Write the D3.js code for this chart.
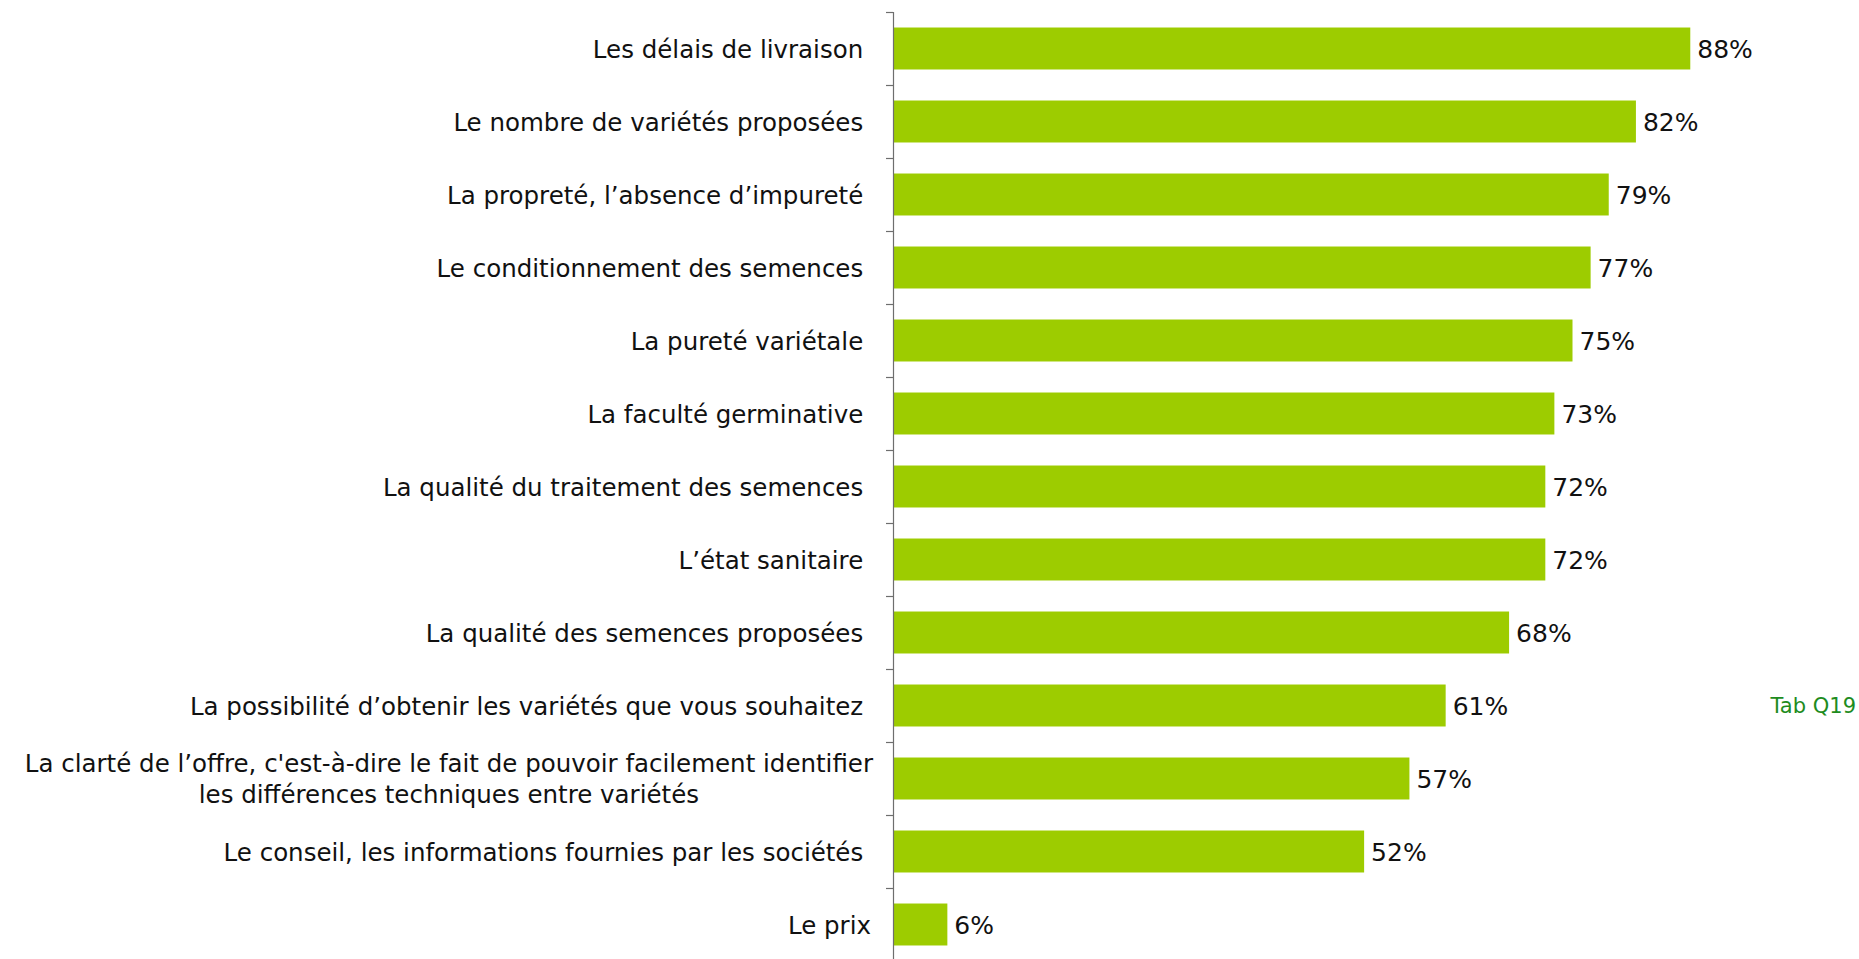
<!DOCTYPE html>
<meta charset="utf-8">
<script src="https://d3js.org/d3.v7.min.js"></script>
<style>
    body {
        margin: 0;
        background-color: white;
    }
    text {
        font-family: Verdana, "DejaVu Sans", sans-serif;
        white-space: pre;
    }
</style>

<div id="my_dataviz"></div>

<script>
    // categories (top to bottom) and values in %
    var categories = [
        "Les délais de livraison ",
        "Le nombre de variétés proposées ",
        "La propreté, l’absence d’impureté ",
        "Le conditionnement des semences ",
        "La pureté variétale ",
        "La faculté germinative ",
        "La qualité du traitement des semences ",
        "L’état sanitaire ",
        "La qualité des semences proposées ",
        "La possibilité d’obtenir les variétés que vous souhaitez ",
        "La clarté de l’offre, c'est-à-dire le fait de pouvoir facilement identifier\nles différences techniques entre variétés",
        "Le conseil, les informations fournies par les sociétés ",
        "Le prix"
    ];
    var values = [88, 82, 79, 77, 75, 73, 72, 72, 68, 61, 57, 52, 6];
    var valueLabels = values.map(function(v) { return v + "%"; });
    var note = "Tab Q19";

    // dimensions
    var W = 1859, H = 959;
    var margin = { top: 12, left: 893 };
    var plotWidth = 906;      // 0..100 %
    var plotHeight = 949;

    var svg = d3.select("#my_dataviz")
        .append("svg")
        .attr("width", W)
        .attr("height", H);

    var x = d3.scaleLinear()
        .domain([0, 100])
        .range([margin.left, margin.left + plotWidth]);

    var y = d3.scaleBand()
        .domain(d3.range(categories.length))
        .range([margin.top, margin.top + plotHeight])
        .paddingInner(0.425)
        .paddingOuter(0.2125);

    // bars
    svg.append("g")
        .selectAll("rect")
        .data(values)
        .enter()
        .append("rect")
        .attr("x", x(0))
        .attr("y", function(d, i) { return y(i); })
        .attr("width", function(d) { return x(d) - x(0); })
        .attr("height", y.bandwidth())
        .style("fill", "#9dcc00");

    // axis line + ticks at band boundaries
    var ax = svg.append("g");
    ax.append("line")
        .attr("x1", x(0) + 0.5).attr("x2", x(0) + 0.5)
        .attr("y1", margin.top).attr("y2", H)
        .style("stroke", "#6e6e6e")
        .style("stroke-width", 1.2);
    ax.selectAll(".tick")
        .data(d3.range(categories.length + 1))
        .enter()
        .append("line")
        .attr("x1", x(0) - 7).attr("x2", x(0))
        .attr("y1", function(i) { return Math.round(margin.top + y.step() * i) + 0.5; })
        .attr("y2", function(i) { return Math.round(margin.top + y.step() * i) + 0.5; })
        .style("stroke", "#6e6e6e")
        .style("stroke-width", 1.2);

    // value labels
    svg.append("g")
        .selectAll("text")
        .data(values)
        .enter()
        .append("text")
        .attr("x", function(d) { return x(d) + 7; })
        .attr("y", function(d, i) { return y(i) + y.bandwidth() / 2; })
        .attr("dy", "0.38em")
        .style("font-size", "25px")
        .style("fill", "#111")
        .text(function(d, i) { return valueLabels[i]; });

    // category labels
    var labelX = x(0) - 22;
    var cat = svg.append("g");
    categories.forEach(function(c, i) {
        var cy = y(i) + y.bandwidth() / 2;
        var lines = c.split("\n");
        if (lines.length === 1) {
            cat.append("text")
                .attr("x", labelX)
                .attr("y", cy)
                .attr("dy", "0.38em")
                .attr("text-anchor", "end")
                .style("font-size", "24.5px")
                .style("fill", "#111")
                .text(c);
        } else {
            // centred block, right edge near the axis
            var t = cat.append("text")
                .attr("text-anchor", "middle")
                .style("font-size", "24.5px")
                .style("fill", "#111");
            lines.forEach(function(l, k) {
                t.append("tspan")
                    .attr("y", cy + (k - (lines.length - 1) / 2) * 31)
                    .attr("dy", "0.38em")
                    .text(l);
            });
            var w = t.select("tspan").node().getComputedTextLength();
            t.selectAll("tspan").attr("x", x(0) - 20 - w / 2);
        }
    });

    // note
    svg.append("text")
        .attr("x", W - 3)
        .attr("y", y(9) + y.bandwidth() / 2)
        .attr("dy", "0.36em")
        .attr("text-anchor", "end")
        .style("font-size", "21px")
        .style("fill", "#1e8c1e")
        .text(note);
</script>
